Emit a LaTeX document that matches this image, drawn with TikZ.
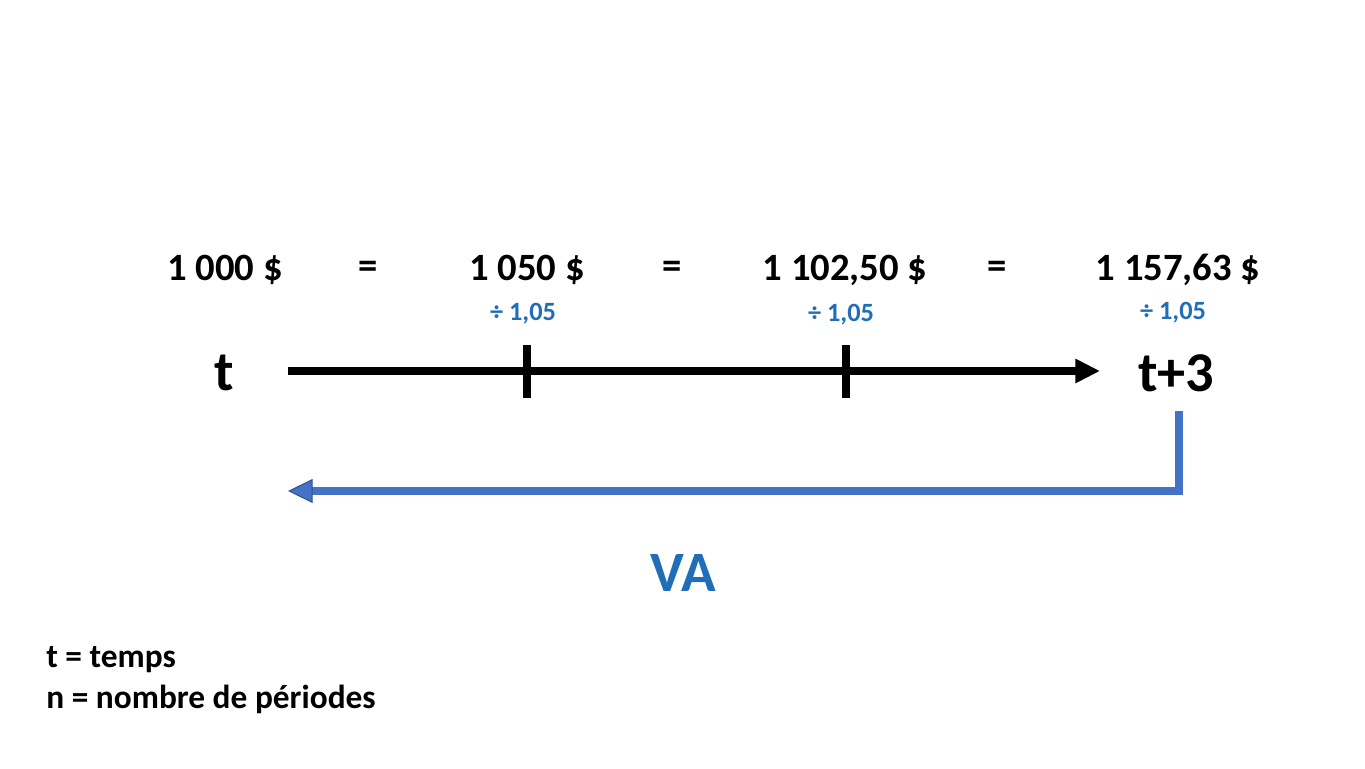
\documentclass[tikz,border=0pt]{standalone}
\usepackage{fontspec}
\setmainfont{Carlito}
\usetikzlibrary{arrows.meta, positioning}
\definecolor{vablue}{HTML}{1F6EB7}
\definecolor{lineblue}{HTML}{4472C4}
\definecolor{edgeblue}{HTML}{2F528F}

\begin{document}
\begin{tikzpicture}[
    x=0.02cm, y=-0.02cm,
    amount/.style={font=\fontsize{22}{26}\selectfont\bfseries, inner sep=0pt},
    factor/.style={font=\fontsize{15}{18}\selectfont\bfseries, text=vablue, inner sep=0pt},
    timelabel/.style={font=\fontsize{32}{38}\selectfont\bfseries, inner sep=0pt},
    legend/.style={font=\fontsize{19}{22}\selectfont\bfseries, anchor=west, inner sep=0pt},
    axis/.style={line width=4.2pt, -{Triangle[length=14pt, width=13pt]}},
    tick/.style={line width=4.2pt},
    back/.style={line width=4.4pt, draw=lineblue, -{Triangle[length=14pt, width=13.6pt, fill=lineblue, color=edgeblue, line width=0.6pt]}}
  ]
  \useasboundingbox (0,0) rectangle (1365,768);

  % amounts
  \node[amount] (a0) at (225,270) {1 000 \$};
  \node[amount] (e1) at (368,270) {=};
  \node[amount] (a1) at (527,270) {1 050 \$};
  \node[amount] (e2) at (672,270) {=};
  \node[amount] (a2) at (845,270) {1 102,50 \$};
  \node[amount] (e3) at (997,270) {=};
  \node[amount] (a3) at (1178,270) {1 157,63 \$};

  \node[factor] (f1) at (523,314) {÷ 1,05};
  \node[factor] (f2) at (841,315) {÷ 1,05};
  \node[factor] (f3) at (1173,313) {÷ 1,05};

  % time line
  \node[timelabel] (t) at (224,373) {t};
  \node[timelabel] (t3) at (1176,373) {t+3};
  \coordinate (axstart) at (288,371);
  \coordinate (axend) at (1100,371);
  \draw[axis] (axstart) -- (axend);
  \draw[tick] (527,345) -- (527,398);
  \draw[tick] (846,345) -- (846,398);

  % present value
  \coordinate (vastart) at (1179,411);
  \coordinate (vaend) at (288,491);
  \draw[back] (vastart) |- (vaend);
  \node[font=\fontsize{32.5}{38}\selectfont\bfseries, text=vablue, inner sep=0pt] (va) at (683,573) {VA};

  \node[legend] (l1) at (46,660) {t = temps};
  \node[legend] (l2) at (46,699) {n = nombre de périodes};
\end{tikzpicture}
\end{document}
